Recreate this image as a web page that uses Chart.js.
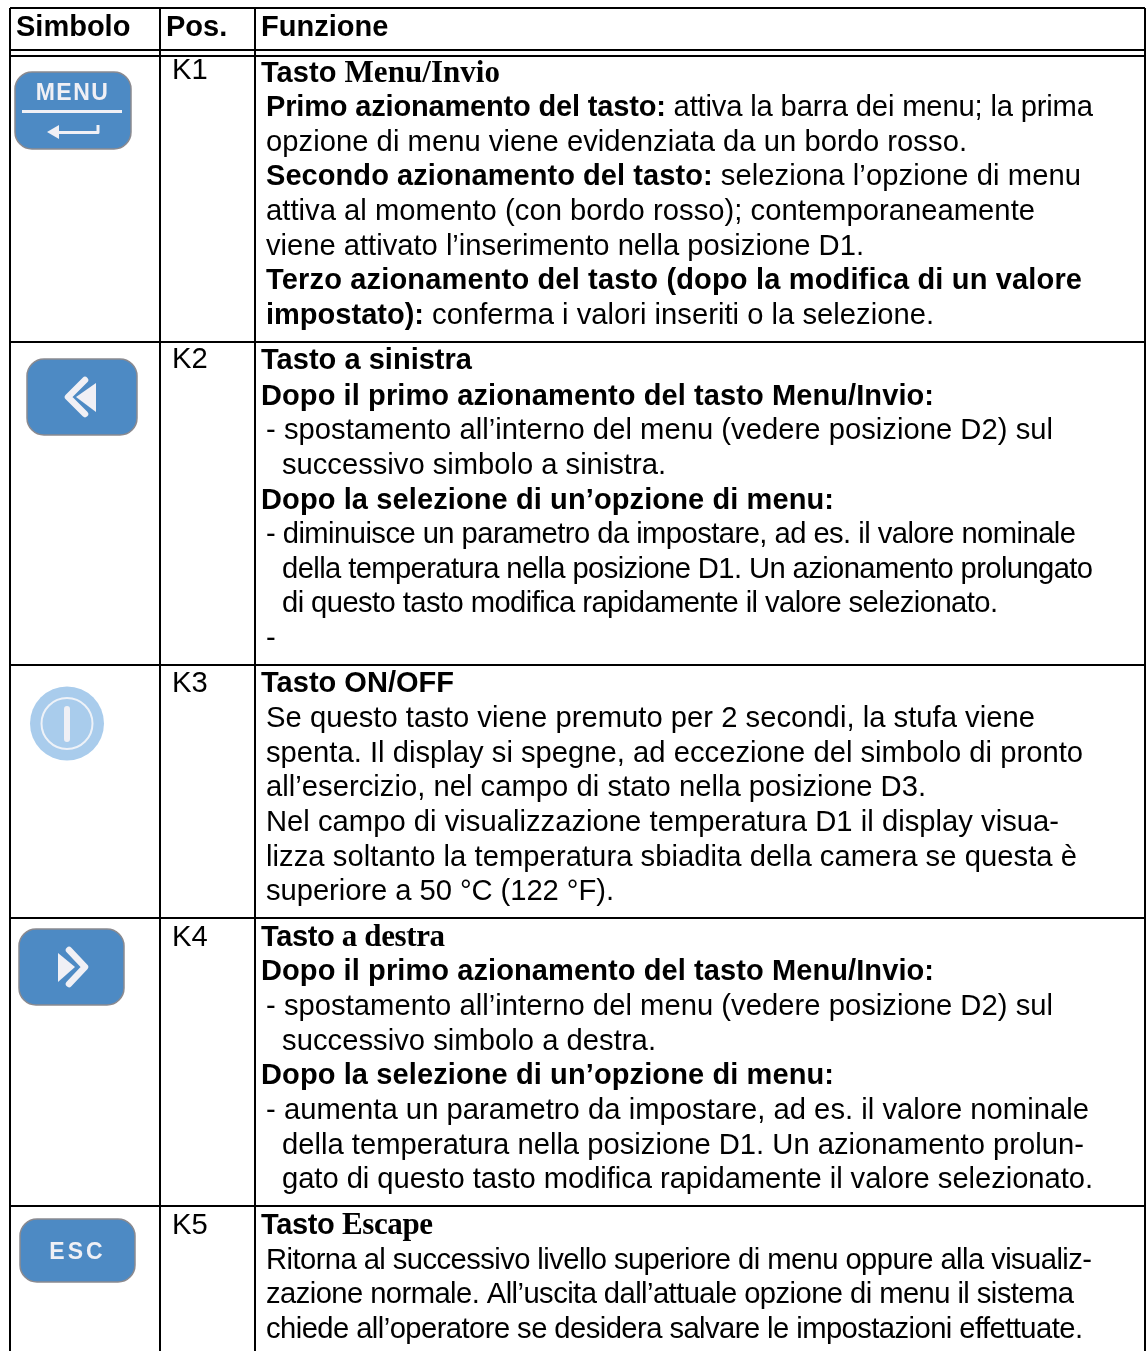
<!DOCTYPE html>
<html lang="it">

<head>
  <meta charset="UTF-8">
  <title>Simbolo - Pos. - Funzione</title>
  <script src="https://cdn.jsdelivr.net/npm/chart.js@4"></script>
  <style>
    html, body { margin: 0; padding: 0; background: #fff; }
    canvas { display: block; }
  </style>
</head>

<body>
  <canvas id="table" width="1147" height="1351"></canvas>

  <script>
    // Table content. b = bold, r = regular, s = bold serif
    const headers = ['Simbolo', 'Pos.', 'Funzione'];
    const positions = ['K1', 'K2', 'K3', 'K4', 'K5'];

    const k1Lines = [
      [['b', 'Tasto '], ['s', 'Menu/Invio']],
      [['b', 'Primo azionamento del tasto: '], ['r', 'attiva la barra dei menu; la prima']],
      [['r', 'opzione di menu viene evidenziata da un bordo rosso.']],
      [['b', 'Secondo azionamento del tasto: '], ['r', 'seleziona l’opzione di menu']],
      [['r', 'attiva al momento (con bordo rosso); contemporaneamente']],
      [['r', 'viene attivato l’inserimento nella posizione D1.']],
      [['b', 'Terzo azionamento del tasto (dopo la modifica di un valore']],
      [['b', 'impostato): '], ['r', 'conferma i valori inseriti o la selezione.']]
    ];
    const k2Lines = [
      [['b', 'Tasto a sinistra']],
      [['b', 'Dopo il primo azionamento del tasto Menu/Invio:']],
      [['r', '- spostamento all’interno del menu (vedere posizione D2) sul']],
      [['r', 'successivo simbolo a sinistra.']],
      [['b', 'Dopo la selezione di un’opzione di menu:']],
      [['r', '- diminuisce un parametro da impostare, ad es. il valore nominale']],
      [['r', 'della temperatura nella posizione D1. Un azionamento prolungato']],
      [['r', 'di questo tasto modifica rapidamente il valore selezionato.']],
      [['r', '-']]
    ];
    const k3Lines = [
      [['b', 'Tasto ON/OFF']],
      [['r', 'Se questo tasto viene premuto per 2 secondi, la stufa viene']],
      [['r', 'spenta. Il display si spegne, ad eccezione del simbolo di pronto']],
      [['r', 'all’esercizio, nel campo di stato nella posizione D3.']],
      [['r', 'Nel campo di visualizzazione temperatura D1 il display visua-']],
      [['r', 'lizza soltanto la temperatura sbiadita della camera se questa è']],
      [['r', 'superiore a 50 °C (122 °F).']]
    ];
    const k4Lines = [
      [['b', 'Tasto '], ['s', 'a destra']],
      [['b', 'Dopo il primo azionamento del tasto Menu/Invio:']],
      [['r', '- spostamento all’interno del menu (vedere posizione D2) sul']],
      [['r', 'successivo simbolo a destra.']],
      [['b', 'Dopo la selezione di un’opzione di menu:']],
      [['r', '- aumenta un parametro da impostare, ad es. il valore nominale']],
      [['r', 'della temperatura nella posizione D1. Un azionamento prolun-']],
      [['r', 'gato di questo tasto modifica rapidamente il valore selezionato.']]
    ];
    const k5Lines = [
      [['b', 'Tasto '], ['s', 'Escape']],
      [['r', 'Ritorna al successivo livello superiore di menu oppure alla visualiz-']],
      [['r', 'zazione normale. All’uscita dall’attuale opzione di menu il sistema']],
      [['r', 'chiede all’operatore se desidera salvare le impostazioni effettuate.']]
    ];
    const allLines = [k1Lines, k2Lines, k3Lines, k4Lines, k5Lines].flat();

    // Where each line sits on the page axes: vertical centre, left index, right end
    const lineCentres = [
      74, 108, 143, 177, 212, 247, 281, 316,
      361, 397, 431, 466, 501, 535, 570, 604, 639,
      684, 719, 754, 788, 823, 858, 892,
      938, 972, 1007, 1042, 1076, 1111, 1146, 1180,
      1226, 1261, 1295, 1330
    ];
    const lineIndents = [
      0, 1, 1, 1, 1, 1, 1, 1,
      0, 0, 1, 2, 0, 1, 2, 2, 1,
      0, 1, 1, 1, 1, 1, 1,
      0, 0, 1, 2, 0, 1, 2, 2,
      0, 1, 1, 1
    ];
    const lineEnds = [
      500, 1093, 967, 1081, 1035, 864, 1082, 934,
      472, 934, 1053, 666, 834, 1076, 1093, 998, null,
      454, 1035, 1083, 926, 1059, 1077, 614,
      445, 934, 1053, 656, 834, 1089, 1084, 1093,
      433, 1092, 1074, 1083
    ];
    const indents = [261, 266, 282];

    // Table rules
    const columnEdges = [10, 160, 255, 1145];
    const rowEdges = [8, 50, 56, 342, 665, 918, 1206];
    const bottomEdge = 1351;
    const headerCentre = 28;
    const positionCentres = [71, 360, 684, 938, 1226];

    // Keys: x0, x1, y0, y1
    const keyBoxes = [
      [15, 131, 72, 149],
      [27, 137, 359, 435],
      [19, 124, 929, 1005],
      [20, 135, 1219, 1282]
    ];
    const keyLabels = [['MENU', 72.5, 93.5, 1.5], ['ESC', 77.5, 1252.5, 3]];
    const keyStrokes = [
      [[22, 111.5], [122, 111.5]],
      [[98, 125], [98, 132.5], [55, 132.5]],
      [[85, 380], [68, 397], [85, 414]],
      [[69, 950], [85, 967], [69, 984]]
    ];
    const keyTriangles = [
      [[47, 132], [59, 125], [59, 139]],
      [[96, 383], [76, 397], [96, 412]],
      [[58, 953], [75, 967], [58, 982]]
    ];

    const powerButton = { x: 67, y: 723.5 };
    const powerBar = [{ x: 67, y: 709 }, { x: 67, y: 739 }];

    function ruleData() {
      const pts = [];
      rowEdges.forEach(y => pts.push({ x: columnEdges[0], y }, { x: columnEdges[3], y }, { x: null, y: null }));
      columnEdges.forEach(x => pts.push({ x, y: rowEdges[0] }, { x, y: bottomEdge }, { x: null, y: null }));
      return pts;
    }

    const fonts = {
      b: 'bold 29px "Liberation Sans"',
      r: '29.2px "Liberation Sans"',
      s: 'bold 31px "Liberation Serif"'
    };

    function pathOf(ctx, x, y, pts) {
      ctx.beginPath();
      pts.forEach((p, n) => {
        const fn = n ? 'lineTo' : 'moveTo';
        ctx[fn](x.getPixelForValue(p[0]), y.getPixelForValue(p[1]));
      });
    }

    // one line of mixed runs, tracked so that it stops at the end
    function drawLine(ctx, runs, left, end, py) {
      let natural = 0;
      let chars = 0;
      ctx.letterSpacing = '0px';
      runs.forEach(run => {
        ctx.font = fonts[run[0]];
        natural += ctx.measureText(run[1]).width;
        chars += run[1].length;
      });
      const tracking = end === null ? 0 : (end - left - natural) / (chars - 1);
      ctx.letterSpacing = tracking + 'px';
      let px = left;
      runs.forEach(run => {
        ctx.font = fonts[run[0]];
        ctx.fillText(run[1], px, py);
        px += ctx.measureText(run[1]).width;
      });
      ctx.letterSpacing = '0px';
    }

    const tablePlugin = {
      id: 'tablePlugin',
      beforeDatasetsDraw(chart) {
        const { ctx, scales: { x, y } } = chart;
        ctx.save();
        ctx.fillStyle = '#4d8ac4';
        ctx.strokeStyle = '#8a8a90';
        ctx.lineWidth = 1.5;
        keyBoxes.forEach(b => {
          const px = x.getPixelForValue(b[0]);
          const py = y.getPixelForValue(b[2]);
          ctx.beginPath();
          ctx.roundRect(px, py, x.getPixelForValue(b[1]) - px, y.getPixelForValue(b[3]) - py, 17);
          ctx.fill();
          ctx.stroke();
        });
        ctx.restore();
      },
      afterDatasetsDraw(chart) {
        const { ctx, scales: { x, y } } = chart;
        ctx.save();

        // key glyphs
        ctx.strokeStyle = '#f0f0f5';
        ctx.fillStyle = '#f0f0f5';
        ctx.lineJoin = 'round';
        keyStrokes.forEach((pts, i) => {
          ctx.lineWidth = i < 2 ? 3 : 6.5;
          ctx.lineCap = i < 2 ? 'butt' : 'round';
          pathOf(ctx, x, y, pts);
          ctx.stroke();
        });
        keyTriangles.forEach(pts => {
          pathOf(ctx, x, y, pts);
          ctx.closePath();
          ctx.fill();
        });
        ctx.textAlign = 'center';
        ctx.textBaseline = 'middle';
        ctx.font = 'bold 23px "Liberation Sans"';
        keyLabels.forEach(l => {
          ctx.letterSpacing = l[3] + 'px';
          ctx.fillText(l[0], x.getPixelForValue(l[1]), y.getPixelForValue(l[2]));
        });
        ctx.letterSpacing = '0px';

        // headers and cell text
        ctx.fillStyle = '#000';
        ctx.textAlign = 'left';
        ctx.textBaseline = 'middle';
        ctx.font = fonts.b;
        headers.forEach((h, i) => {
          ctx.fillText(h, x.getPixelForValue(columnEdges[i] + 6), y.getPixelForValue(headerCentre));
        });
        ctx.font = fonts.r;
        positions.forEach((p, i) => {
          ctx.fillText(p, x.getPixelForValue(172), y.getPixelForValue(positionCentres[i]));
        });
        allLines.forEach((runs, i) => {
          const left = x.getPixelForValue(indents[lineIndents[i]]);
          const end = lineEnds[i] === null ? null : x.getPixelForValue(lineEnds[i]);
          drawLine(ctx, runs, left, end, y.getPixelForValue(lineCentres[i]));
        });
        ctx.restore();
      }
    };

    new Chart(document.getElementById('table'), {
      type: 'scatter',
      data: {
        datasets: [
          {
            type: 'line',
            data: ruleData(),
            borderColor: '#000',
            borderWidth: 2,
            pointRadius: 0,
            spanGaps: false,
            clip: false
          },
          {
            type: 'line',
            data: powerBar,
            borderColor: '#f0f0f5',
            borderWidth: 6,
            borderCapStyle: 'round',
            pointRadius: 0,
            order: 0
          },
          {
            type: 'bubble',
            data: [{ x: powerButton.x, y: powerButton.y, r: 25.5 }],
            backgroundColor: 'rgba(0,0,0,0)',
            borderColor: '#eef2f8',
            borderWidth: 2,
            order: 1
          },
          {
            type: 'bubble',
            data: [{ x: powerButton.x, y: powerButton.y, r: 37 }],
            backgroundColor: '#a9ccec',
            borderWidth: 0,
            order: 2
          }
        ]
      },
      options: {
        responsive: false,
        animation: false,
        events: [],
        layout: { padding: 0, autoPadding: false },
        plugins: { legend: { display: false }, tooltip: { enabled: false } },
        scales: {
          x: { type: 'linear', display: false, min: 0, max: 1147 },
          y: { type: 'linear', display: false, min: 0, max: 1351, reverse: true }
        }
      },
      plugins: [tablePlugin]
    });
  </script>

</body>
</html>
